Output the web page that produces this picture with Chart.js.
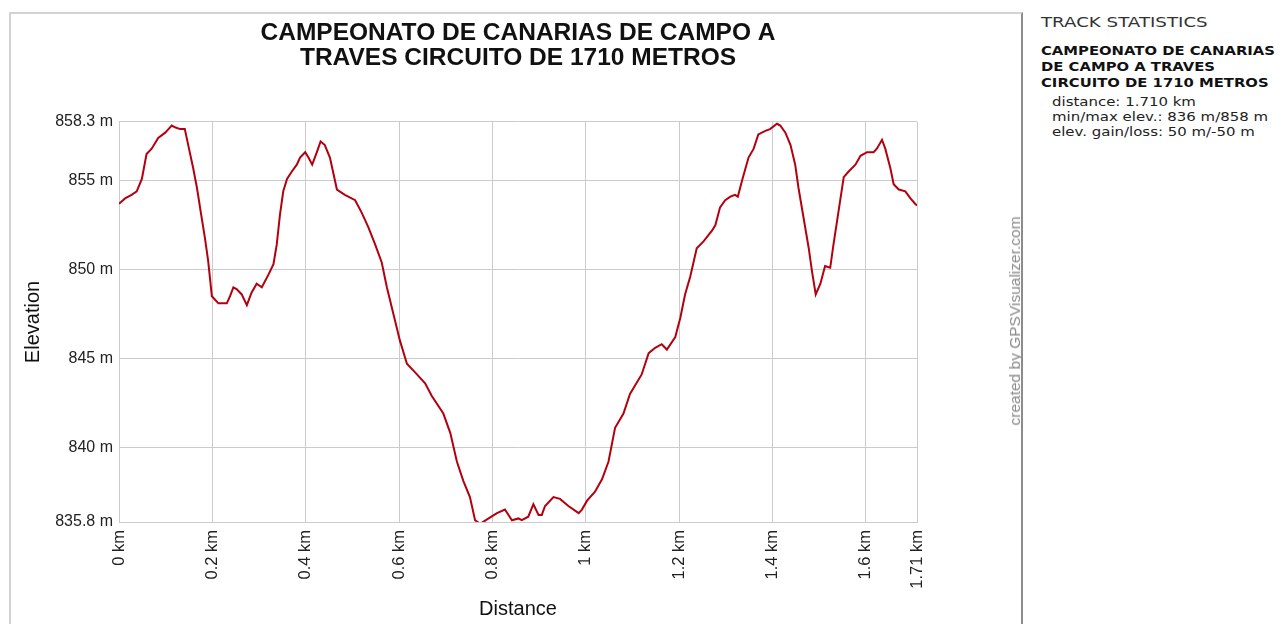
<!DOCTYPE html>
<html>
<head>
<meta charset="utf-8">
<script src="https://cdn.jsdelivr.net/npm/chart.js@4.4.1/dist/chart.umd.min.js"></script>
<style>
html, body { margin:0; padding:0; background:#fff; width:1287px; height:624px; overflow:hidden; }
#frame { position:absolute; left:9px; top:12px; width:1010px; height:700px;
  border-left:2px solid #d2d2d2; border-top:2px solid #d2d2d2; border-right:2px solid #8c8c8c; z-index:0; }
#wrap { position:absolute; left:0; top:0; width:1010px; height:624px; z-index:1; }
#credit { position:absolute; left:1015px; top:321px; transform:translate(-50%,-50%) rotate(-90deg);
  font:15.5px "Liberation Sans", Arial, sans-serif; color:#8a8a8a; white-space:nowrap; z-index:2; }
.st { position:absolute; left:1041px; white-space:nowrap; font-family:"DejaVu Sans", Verdana, sans-serif;
  transform-origin:0 50%; transform:scaleX(1.3); color:#222; }
.hd { font-size:14px; line-height:18px; color:#333; }
.bd { font-size:11.4px; font-weight:bold; line-height:16px; color:#111; }
.rg { font-size:11.5px; line-height:15px; left:1052px; color:#222; }
</style>
</head>
<body>
<div id="frame"></div>
<div id="wrap"><canvas id="c"></canvas></div>
<div id="credit">created by GPSVisualizer.com</div>
<div class="st hd" style="top:13px">TRACK STATISTICS</div>
<div class="st bd" style="top:43px">CAMPEONATO DE CANARIAS</div>
<div class="st bd" style="top:59px">DE CAMPO A TRAVES</div>
<div class="st bd" style="top:75px">CIRCUITO DE 1710 METROS</div>
<div class="st rg" style="top:95px">distance: 1.710 km</div>
<div class="st rg" style="top:110px">min/max elev.: 836 m/858 m</div>
<div class="st rg" style="top:125px">elev. gain/loss: 50 m/-50 m</div>
<script>
const titleLines = ['CAMPEONATO DE CANARIAS DE CAMPO A', 'TRAVES CIRCUITO DE 1710 METROS'];

const distKm = [
  0, 0.013, 0.027, 0.038, 0.049, 0.059, 0.070, 0.084, 0.099, 0.106,
  0.113, 0.120, 0.131, 0.141, 0.150, 0.159, 0.167, 0.176, 0.184, 0.191,
  0.199, 0.206, 0.213, 0.220, 0.231, 0.238, 0.245, 0.252, 0.263, 0.274,
  0.284, 0.295, 0.306, 0.320, 0.331, 0.338, 0.345, 0.352, 0.360, 0.370,
  0.381, 0.388, 0.399, 0.406, 0.414, 0.424, 0.432, 0.441, 0.452, 0.467,
  0.484, 0.506, 0.520, 0.534, 0.549, 0.563, 0.574, 0.588, 0.602, 0.617,
  0.635, 0.656, 0.670, 0.695, 0.710, 0.724, 0.738, 0.752, 0.763, 0.774,
  0.792, 0.810, 0.827, 0.842, 0.856, 0.863, 0.877, 0.888, 0.899, 0.906,
  0.913, 0.931, 0.945, 0.963, 0.985, 0.992, 1.003, 1.020, 1.035, 1.049,
  1.063, 1.081, 1.095, 1.120, 1.135, 1.149, 1.163, 1.174, 1.192, 1.203,
  1.213, 1.224, 1.238, 1.253, 1.271, 1.278, 1.288, 1.299, 1.310, 1.320,
  1.326, 1.335, 1.349, 1.360, 1.370, 1.385, 1.395, 1.410, 1.417, 1.428,
  1.439, 1.449, 1.456, 1.467, 1.478, 1.485, 1.493, 1.503, 1.513, 1.524,
  1.531, 1.542, 1.553, 1.563, 1.578, 1.589, 1.603, 1.617, 1.624, 1.635,
  1.642, 1.653, 1.660, 1.671, 1.685, 1.696, 1.706, 1.710
];

const elevM = [
  853.7, 854.0, 854.2, 854.4, 855.1, 856.5, 856.8, 857.4, 857.7, 857.9,
  858.1, 858.0, 857.9, 857.9, 856.8, 855.7, 854.6, 853.1, 851.8, 850.5,
  848.5, 848.3, 848.1, 848.1, 848.1, 848.5, 849.0, 848.9, 848.6, 848.0,
  848.7, 849.2, 849.0, 849.7, 850.3, 851.4, 853.1, 854.4, 855.1, 855.5,
  855.9, 856.3, 856.6, 856.3, 855.9, 856.6, 857.2, 857.0, 856.3, 854.5,
  854.2, 853.9, 853.2, 852.4, 851.4, 850.4, 849.0, 847.5, 846.0, 844.7,
  844.2, 843.6, 842.9, 841.9, 840.8, 839.2, 838.1, 837.2, 835.9, 835.7,
  836.0, 836.3, 836.5, 835.9, 836.0, 835.9, 836.1, 836.8, 836.2, 836.2,
  836.7, 837.2, 837.1, 836.7, 836.3, 836.5, 837.0, 837.5, 838.2, 839.2,
  841.1, 841.9, 843.0, 844.1, 845.3, 845.6, 845.8, 845.5, 846.2, 847.3,
  848.6, 849.6, 851.2, 851.6, 852.2, 852.5, 853.5, 853.9, 854.1, 854.2,
  854.1, 855.0, 856.3, 856.8, 857.6, 857.8, 857.9, 858.2, 858.1, 857.7,
  857.0, 855.9, 854.6, 852.9, 851.2, 849.9, 848.6, 849.2, 850.2, 850.1,
  851.4, 853.3, 855.2, 855.5, 855.9, 856.4, 856.6, 856.6, 856.8, 857.3,
  856.8, 855.7, 854.8, 854.5, 854.4, 854.0, 853.7, 853.6
];

const xTickValues = [0, 0.2, 0.4, 0.6, 0.8, 1.0, 1.2, 1.4, 1.6, 1.71];
const xTickLabels = ['0 km', '0.2 km', '0.4 km', '0.6 km', '0.8 km', '1 km', '1.2 km', '1.4 km', '1.6 km', '1.71 km'];
const yTickValues = [835.8, 840, 845, 850, 855, 858.3];
const yTickLabels = ['835.8 m', '840 m', '845 m', '850 m', '855 m', '858.3 m'];

const points = distKm.map((d, i) => ({ x: d, y: elevM[i] }));
const FONT = '"Liberation Sans", Arial, sans-serif';
const GRID = '#cbcbcb';

new Chart(document.getElementById('c'), {
  type: 'line',
  data: {
    datasets: [{
      data: points,
      borderColor: '#b3000e',
      borderWidth: 2,
      pointRadius: 0,
      tension: 0,
      fill: false
    }]
  },
  options: {
    responsive: true,
    maintainAspectRatio: false,
    animation: false,
    layout: { padding: { left: 10, right: 93, top: 0, bottom: 0 } },
    plugins: {
      legend: { display: false },
      tooltip: { enabled: false },
      title: {
        display: true,
        text: titleLines,
        fullSize: false,
        color: '#111',
        font: { family: FONT, size: 24.5, weight: 'bold', lineHeight: 1.02 },
        padding: { top: 21, bottom: 51 }
      }
    },
    scales: {
      x: {
        type: 'linear',
        min: 0,
        max: 1.71,
        afterBuildTicks: s => { s.ticks = xTickValues.map(v => ({ value: v })); },
        afterFit: s => { s.height = 102; },
        ticks: {
          autoSkip: false, minRotation: 90, maxRotation: 90, padding: 8,
          color: '#222', font: { family: FONT, size: 16.5 },
          callback: (v, i) => xTickLabels[i]
        },
        grid: { color: GRID, drawTicks: false, lineWidth: 1 },
        border: { color: GRID },
        title: { display: true, text: 'Distance', color: '#111',
          font: { family: FONT, size: 20 }, padding: { top: 0, bottom: 3 } }
      },
      y: {
        type: 'linear',
        min: 835.8,
        max: 858.3,
        afterBuildTicks: s => { s.ticks = yTickValues.map(v => ({ value: v })); },
        afterFit: s => { s.width = 109; },
        ticks: {
          padding: 6, color: '#222', font: { family: FONT, size: 16 },
          callback: (v, i) => yTickLabels[i]
        },
        grid: { color: GRID, drawTicks: false, lineWidth: 1 },
        border: { color: GRID },
        title: { display: true, text: 'Elevation', color: '#111',
          font: { family: FONT, size: 20 }, padding: { top: 11, bottom: 0 } }
      }
    }
  }
});
</script>
</body>
</html>
